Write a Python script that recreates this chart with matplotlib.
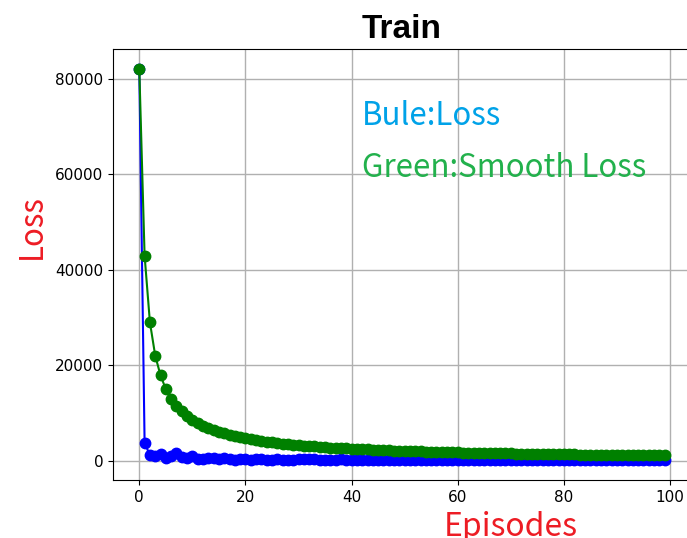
import matplotlib
matplotlib.use("Agg")
import matplotlib.pyplot as plt

episodes = list(range(100))

loss = [82100, 3800, 1100, 1000, 1300, 600, 900, 1500, 700, 500,
        900, 400, 300, 600, 500, 400, 500, 300, 200, 300,
        250, 200, 300, 250, 200, 150, 250, 200, 150, 200,
        300, 350, 400, 250, 200, 200, 150, 200, 250, 200,
        200, 150, 200, 150, 100, 150, 200, 150, 100, 150,
        150, 100, 150, 100, 150, 100, 100, 150, 100, 100,
        100, 150, 100, 100, 50, 100, 150, 100, 100, 50,
        100, 100, 50, 100, 100, 50, 100, 100, 50, 100,
        50, 100, 100, 50, 100, 50, 100, 50, 100, 50,
        100, 50, 100, 50, 100, 50, 100, 50, 100, 50]

smooth_loss = [82100, 42950, 29000, 22000, 17860, 14983, 12971, 11538, 10333, 9350,
               8582, 7900, 7315, 6836, 6413, 6038, 5712, 5411, 5137, 4895,
               4674, 4470, 4289, 4121, 3964, 3817, 3685, 3561, 3443, 3335,
               3237, 3147, 3064, 2981, 2901, 2826, 2754, 2687, 2624, 2564,
               2506, 2450, 2398, 2347, 2297, 2250, 2206, 2164, 2121, 2082,
               2044, 2007, 1972, 1937, 1905, 1872, 1841, 1812, 1783, 1755,
               1728, 1702, 1677, 1652, 1628, 1605, 1583, 1561, 1540, 1519,
               1499, 1479, 1460, 1441, 1423, 1405, 1388, 1372, 1355, 1339,
               1323, 1309, 1294, 1279, 1265, 1251, 1238, 1224, 1212, 1199,
               1187, 1174, 1163, 1151, 1140, 1129, 1118, 1107, 1097, 1087]

fig = plt.figure(figsize=(6.87, 5.38), dpi=100)
ax = fig.add_axes([0.1645, 0.1078, 0.8413, 0.8011])

ax.plot(episodes, loss, color="blue", marker="o", markersize=7.5, linewidth=1.5)
ax.plot(episodes, smooth_loss, color="green", marker="o", markersize=7.5, linewidth=1.5)

ax.grid(True, color="#b0b0b0", linewidth=1)
ax.set_axisbelow(True)
ax.tick_params(labelsize=11)
ax.set_xticks([0, 20, 40, 60, 80, 100])
ax.set_yticks([0, 20000, 40000, 60000, 80000])

cjk = ["Noto Sans CJK SC", "DejaVu Sans"]
ax.set_title("Train", fontsize=24, fontweight="bold", family="Liberation Sans", pad=8)
ax.text(42, 70300, "Bule:Loss", color="#00a2e8", fontsize=22.5, family=cjk, va="baseline")
ax.text(42, 59400, "Green:Smooth Loss", color="#22b14c", fontsize=22.5, family=cjk, va="baseline")

fig.text(0.047, 0.578, "Loss", color="#ed1c24", fontsize=22.5, family=cjk,
         rotation=90, ha="center", va="center")
fig.text(0.743, 0.004, "Episodes", color="#ed1c24", fontsize=23, family=cjk,
         ha="center", va="baseline")

fig.savefig("out.png", dpi=100)
